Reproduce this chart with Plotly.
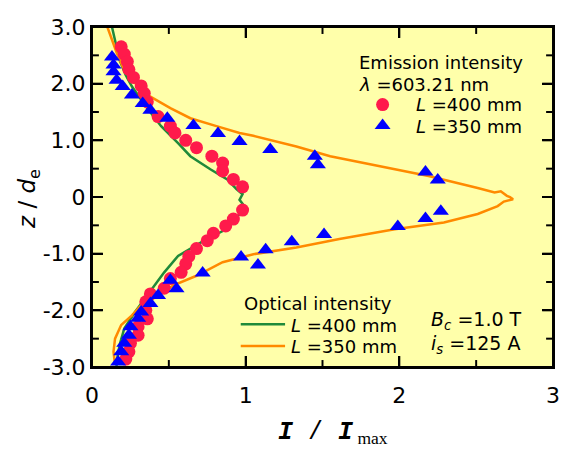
import plotly.graph_objects as go

# ---- Emission intensity (points) ----
em400_x = [0.19, 0.21, 0.23, 0.24, 0.27, 0.32, 0.34, 0.36, 0.43, 0.51, 0.54, 0.61, 0.68, 0.78, 0.85, 0.85, 0.92, 0.98,
           0.98, 0.92, 0.87, 0.79, 0.75, 0.68, 0.63, 0.61, 0.58, 0.51, 0.47, 0.38, 0.35, 0.35, 0.36, 0.30, 0.30, 0.25, 0.24, 0.22]
em400_z = [2.65, 2.52, 2.39, 2.25, 2.11, 1.96, 1.83, 1.68, 1.42, 1.25, 1.13, 1.00, 0.87, 0.72, 0.60, 0.46, 0.31, 0.18,
           -0.23, -0.39, -0.51, -0.64, -0.77, -0.91, -1.05, -1.18, -1.33, -1.44, -1.61, -1.71, -1.85, -2.00, -2.15, -2.29, -2.44, -2.58, -2.73, -2.86]

em350_x = [0.13, 0.14, 0.14, 0.16, 0.20, 0.26, 0.33, 0.38, 0.49, 0.66, 0.82, 0.96, 1.16, 1.45, 1.47, 2.17, 2.25,
           2.27, 2.17, 1.99, 1.51, 1.30, 1.13, 1.08, 0.97, 0.72, 0.51, 0.55, 0.43, 0.38, 0.32, 0.30, 0.25, 0.24, 0.21, 0.19, 0.17]
em350_z = [2.47, 2.33, 2.21, 2.06, 1.95, 1.80, 1.65, 1.53, 1.39, 1.26, 1.12, 0.98, 0.84, 0.72, 0.57, 0.44, 0.30,
           -0.25, -0.38, -0.52, -0.66, -0.79, -0.93, -1.20, -1.06, -1.34, -1.47, -1.62, -1.74, -1.88, -2.03, -2.14, -2.29, -2.44, -2.58, -2.73, -2.91]

# ---- Optical intensity (lines) ----
op400_x = [0.13, 0.14, 0.16, 0.18, 0.22, 0.26, 0.35, 0.45, 0.56, 0.64, 0.77, 0.88, 0.94, 0.96, 0.98, 0.96, 0.98, 0.96,
           0.98, 0.95, 0.85, 0.71, 0.56, 0.47, 0.36, 0.28, 0.21, 0.18, 0.16, 0.16]
op400_z = [3.00, 2.88, 2.65, 2.41, 2.15, 1.95, 1.60, 1.25, 0.95, 0.72, 0.49, 0.31, 0.14, 0.10, 0.05, -0.05, -0.12, -0.20,
           -0.26, -0.33, -0.60, -0.80, -1.04, -1.33, -1.74, -2.03, -2.32, -2.61, -2.91, -3.00]

op350_x = [0.10, 0.13, 0.16, 0.20, 0.25, 0.32, 0.38, 0.51, 0.64, 0.81, 0.96, 1.05, 1.33, 1.55, 1.87, 2.19, 2.51, 2.62,
           2.66, 2.70, 2.72, 2.74, 2.68, 2.64, 2.51, 2.29, 1.97, 1.61, 1.33, 1.05, 0.85, 0.68, 0.53, 0.43, 0.32, 0.26,
           0.19, 0.15, 0.14, 0.15]
op350_z = [3.00, 2.77, 2.55, 2.30, 2.10, 1.89, 1.77, 1.57, 1.39, 1.25, 1.13, 1.08, 0.89, 0.72, 0.54, 0.37, 0.16, 0.08,
           0.10, 0.02, 0.00, -0.04, -0.08, -0.16, -0.30, -0.45, -0.57, -0.74, -0.89, -1.01, -1.15, -1.39, -1.56, -1.74,
           -1.91, -2.09, -2.26, -2.50, -2.73, -2.96]

x_range = [0, 3]
z_range = [-3, 3]
x_major_ticks = [1, 2]
x_minor_ticks = [0.5, 1.5, 2.5]
z_major_ticks = [-2, -1, 0, 1, 2]
z_minor_ticks = [-2.5, -1.5, -0.5, 0.5, 1.5, 2.5]
# tick label text overrides for the z axis (plotly formats as "0.0" / "−3.0")
z_label_alias = {"0.0": "0", "\u22121.0": "-1.0", "\u22122.0": "-2.0", "\u22123.0": "-3.0"}

GREEN = "#1f8a3a"
ORANGE = "#ff8a00"
RED = "#ff1a4b"
BLUE = "#0000ff"
BG = "#ffffaa"
INK = "rgb(0,0,0)"
FONT = "DejaVu Sans"

OFF = 8  # page body margin
W, H = 567 - OFF, 449
L, R, T = 92 - OFF, 7, 25 - OFF
B = H - (367 - OFF)
PW, PH = W - L - R, H - T - B


def px(xp):
    return (xp - OFF - L) / PW


def py(yp):
    return (H - B - (yp - OFF)) / PH


def fx(v):
    return (v - x_range[0]) / (x_range[1] - x_range[0])


def fz(v):
    return (v - z_range[0]) / (z_range[1] - z_range[0])


fig = go.Figure()
fig.add_trace(go.Scatter(x=op400_x, y=op400_z, mode="lines", line=dict(color=GREEN, width=2.5), showlegend=False))
fig.add_trace(go.Scatter(x=op350_x, y=op350_z, mode="lines", line=dict(color=ORANGE, width=2.5), showlegend=False))
fig.add_trace(go.Scatter(x=em400_x, y=em400_z, mode="markers",
                         marker=dict(symbol="circle", size=13, color=RED, line=dict(width=0)), showlegend=False))
fig.add_trace(go.Scatter(x=em350_x, y=em350_z, mode="markers",
                         marker=dict(symbol="triangle-up", size=14, color=BLUE, line=dict(width=0)), showlegend=False))

shapes = []
hx, hy = 1.0 / PW, 1.0 / PH  # half line width (1 px) in paper units


def bar(x0, x1, y0, y1):
    shapes.append(dict(type="rect", xref="paper", yref="paper", x0=x0, x1=x1, y0=y0, y1=y1,
                       fillcolor=INK, line=dict(width=0), layer="above"))


# frame drawn as filled bars
bar(-hx, hx, -hy, 1 + hy)
bar(1 - hx, 1 + hx, -hy, 1 + hy)
bar(-hx, 1 + hx, -hy, hy)
bar(-hx, 1 + hx, 1 - hy, 1 + hy)
# inside ticks on all four sides
for vals, ln in ((x_major_ticks, 11), (x_minor_ticks, 7)):
    for v in vals:
        f = fx(v)
        bar(f - hx, f + hx, 0, ln / PH)
        bar(f - hx, f + hx, 1 - ln / PH, 1)
for vals, ln in ((z_major_ticks, 11), (z_minor_ticks, 7)):
    for v in vals:
        f = fz(v)
        bar(0, ln / PW, f - hy, f + hy)
        bar(1 - ln / PW, 1, f - hy, f + hy)
# legend samples
shapes.append(dict(type="circle", xref="paper", yref="paper", xsizemode="pixel", ysizemode="pixel",
                   xanchor=px(387), yanchor=py(103), x0=-6.5, x1=6.5, y0=-6.5, y1=6.5,
                   fillcolor=RED, line=dict(width=0)))
shapes.append(dict(type="path", xref="paper", yref="paper", xsizemode="pixel", ysizemode="pixel",
                   xanchor=px(387), yanchor=py(124), path="M-8,-3.5 L8,-3.5 L0,7 Z",
                   fillcolor=BLUE, line=dict(width=0)))
shapes.append(dict(type="line", xref="paper", yref="paper", x0=px(243), x1=px(288), y0=py(324), y1=py(324),
                   line=dict(color=GREEN, width=2.5)))
shapes.append(dict(type="line", xref="paper", yref="paper", x0=px(243), x1=px(288), y0=py(346), y1=py(346),
                   line=dict(color=ORANGE, width=2.5)))

ann = []


def text(xp, yp, s, size=18, anchor="left", family=FONT, **kw):
    ann.append(dict(x=px(xp), y=py(yp), xref="paper", yref="paper", text=s, showarrow=False,
                    xanchor=anchor, yanchor="middle", font=dict(family=family, size=size, color="black"), **kw))


text(361, 61, "Emission intensity")
text(361, 83, "<i>λ</i> =603.21 nm")
text(419, 103, "<i>L</i> =400 mm")
text(419, 125, "<i>L</i> =350 mm")
text(244, 303, "Optical intensity")
text(292, 325, "<i>L</i> =400 mm")
text(292, 346, "<i>L</i> =350 mm")
text(434, 320, "<i>B</i><sub><i>c</i></sub> =1.0 T", size=19)
text(434, 344, "<i>i</i><sub><i>s</i></sub> =125 A", size=19)
text(337, 433, "<b><i>I</i></b> / <b><i>I</i></b><sub><span style='font-family:Liberation Serif'> max</span></sub>",
     size=25, anchor="center", family="Liberation Mono")
ann.append(dict(x=px(28), y=py(198), xref="paper", yref="paper", showarrow=False, textangle=-90,
                text="<i>z</i> / <i>d</i><sub>e</sub>", xanchor="center", yanchor="middle",
                font=dict(family=FONT, size=23, color="black")))

axis_common = dict(showgrid=False, zeroline=False, showline=True, linecolor=INK, linewidth=2,
                   mirror="ticks", ticks="inside", ticklen=11, tickwidth=2, tickcolor=INK,
                   tickmode="linear", tick0=0, dtick=1,
                   tickfont=dict(family=FONT, size=22, color="black"))

fig.update_layout(
    width=W, height=H,
    margin=dict(l=L, r=R, t=T, b=B, pad=0),
    paper_bgcolor="white", plot_bgcolor=BG,
    xaxis=dict(range=x_range, ticklabelstandoff=8, **axis_common),
    yaxis=dict(range=z_range, tickformat=".1f", labelalias=z_label_alias, **axis_common),
    shapes=shapes,
    annotations=ann,
    showlegend=False,
)

fig.write_html("out.html")
